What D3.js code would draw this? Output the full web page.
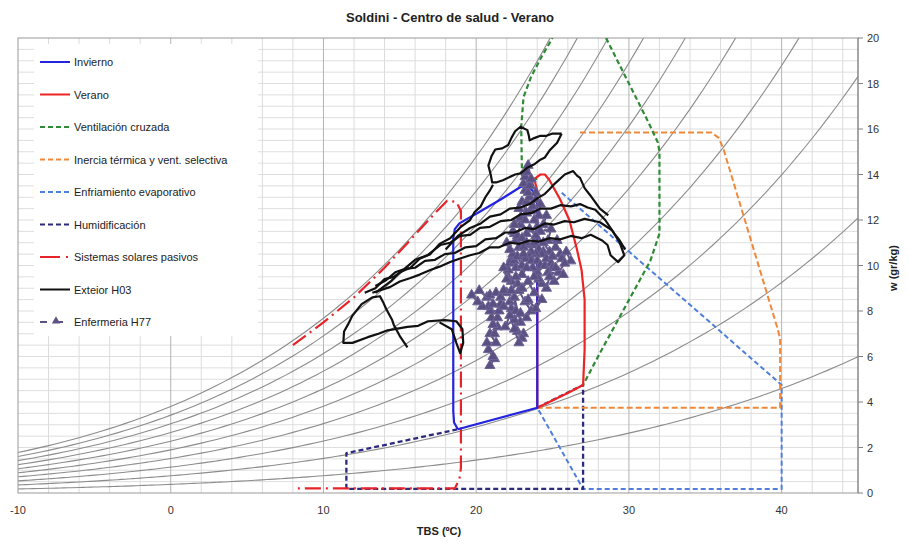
<!DOCTYPE html>
<html>
<head>
<meta charset="utf-8">
<script src="https://cdn.jsdelivr.net/npm/d3@7"></script>
<style>
  body { margin: 0; background: #fff; font-family: "Liberation Sans", Arial, sans-serif; }
</style>
</head>
<body>
<svg id="chart" width="909" height="549"></svg>
<script>
const chartTitle = "Soldini - Centro de salud - Verano";
const xTicks = [-10, 0, 10, 20, 30, 40];
const yTicks = [0, 2, 4, 6, 8, 10, 12, 14, 16, 18, 20];
const rhLevels = [0.1, 0.2, 0.3, 0.4, 0.5, 0.6, 0.7, 0.8, 0.9, 1.0];
const pressureKPa = 100.5;

// zones [TBS, w]
const invierno = [[18.8, 2.8], [18.55, 3.1], [18.5, 3.6], [18.5, 11.2], [18.6, 11.6], [18.9, 11.85], [20.2, 12.35], [21.6, 12.9], [22.9, 13.45], [23.4, 13.5], [23.8, 13.2], [24.0, 12.7], [24.0, 3.75], [18.8, 2.8]];
const verano = [[24.0, 3.75], [26.0, 4.4], [27.0, 4.75], [27.1, 6.3], [27.1, 8.5], [26.9, 9.8], [26.6, 10.7], [26.1, 12.0], [25.5, 12.9], [24.8, 13.75], [24.5, 14.0], [24.2, 14.0], [23.8, 13.8], [24.0, 13.3], [24.0, 3.75]];
const ventilacion = [[24.0, 13.8], [23.0, 13.9], [22.95, 16.1], [23.1, 17.4], [23.6, 18.3], [24.3, 19.2], [25.0, 20], null, [28.5, 20], [31.2, 16.4], [31.9, 15.4], [32.0, 15.0], [32.0, 11.4], [31.4, 10.2], [28.1, 6.15], [27.0, 4.75]];
const inercia = [[26.8, 15.85], [35.4, 15.85], [35.9, 15.6], [36.2, 15.1], [39.7, 7.3], [39.9, 6.8], [39.9, 3.75], [24.0, 3.75]];
const enfriamiento = [[25.6, 13.2], [40.0, 4.75], [40.0, 0.18], [27.0, 0.18], [24.0, 3.75]];
const humidificacion = [[24.0, 3.75], [27.0, 4.75], [27.0, 0.18], [11.5, 0.18], [11.5, 1.75], [18.8, 2.8]];
const solares = [[8.0, 6.5], [10.0, 7.5], [12.0, 8.6], [14.0, 9.9], [16.0, 11.35], [17.3, 12.3], [18.1, 12.85], [18.7, 12.8], [19.0, 12.4], [19.0, 1.1], [18.9, 0.6], [18.6, 0.2], [8.3, 0.2]];

// measured series
const exteriorH03 = [
  [[15.5, 6.4], [15.0, 6.9], [14.6, 7.4], [14.5, 7.6], [14.1, 8.1], [13.9, 8.4], [13.7, 8.65], [13.2, 8.6], [12.5, 8.3], [11.9, 7.8], [11.6, 7.4], [11.35, 7.1], [11.3, 6.6], [11.9, 6.6], [12.9, 6.85], [13.6, 7.0], [14.2, 7.15], [15.5, 7.3], [16.2, 7.35], [16.85, 7.55], [17.95, 7.6], [18.7, 7.55], [19.1, 7.2], [19.15, 6.6], [18.95, 6.15], [18.7, 6.6], [18.4, 7.2], [17.6, 7.5]],
  [[12.7, 8.8], [13.4, 9.0], [14.0, 9.4], [14.6, 9.5], [15.35, 9.85], [16.0, 9.9], [16.65, 10.2], [17.3, 10.25], [17.95, 10.5], [18.6, 10.55], [19.3, 10.8], [20.0, 10.85], [20.6, 11.15], [21.3, 11.2], [21.9, 11.45], [22.5, 11.45], [23.2, 11.65], [23.8, 11.6], [24.5, 11.85], [25.1, 11.8], [25.8, 11.95], [26.4, 11.9], [27.1, 12.05], [28.1, 11.9], [28.9, 11.55], [29.4, 11.0], [29.7, 10.45], [29.3, 10.15], [28.8, 10.45], [28.6, 10.9], [28.25, 11.1], [27.5, 11.35], [26.9, 11.2], [26.2, 11.3], [25.5, 11.15], [24.8, 11.2], [24.1, 11.05], [23.5, 11.1], [22.8, 10.95], [22.2, 11.0], [21.5, 10.8], [20.9, 10.8], [20.2, 10.55], [19.6, 10.45], [18.9, 10.3], [18.3, 10.15], [17.6, 9.95], [17.0, 9.8], [16.3, 9.6], [15.7, 9.45], [15.0, 9.3], [14.35, 9.05], [13.2, 8.8]],
  [[13.4, 9.1], [14.1, 9.35], [14.7, 9.7], [15.3, 9.85], [16.0, 10.25], [16.8, 10.45], [17.65, 10.9], [18.3, 11.0], [18.95, 11.3], [19.6, 11.35], [20.25, 11.65], [20.9, 11.7], [21.6, 11.95], [22.3, 12.0], [22.9, 12.25], [23.6, 12.3], [24.2, 12.5], [24.9, 12.5], [25.5, 12.65], [26.2, 12.6], [26.8, 12.7], [27.3, 12.55], [27.8, 12.45], [28.45, 12.0], [29.1, 11.35], [29.4, 11.1], [29.75, 10.7]],
  [[18.0, 10.7], [18.8, 11.3], [19.6, 11.65], [20.3, 11.85], [20.9, 12.15], [21.6, 12.25], [22.2, 12.5], [22.9, 12.55], [23.5, 12.7], [24.0, 12.95], [24.5, 13.15], [24.8, 13.35], [25.15, 13.6], [25.8, 14.0], [26.35, 14.15], [26.6, 13.95], [26.8, 13.85], [27.1, 13.4], [27.45, 13.1], [28.1, 12.5], [28.65, 12.2]],
  [[25.6, 15.8], [25.3, 15.4], [24.8, 15.05], [24.5, 14.75], [24.2, 14.65], [23.8, 14.45], [23.35, 14.3], [22.9, 14.05], [22.55, 14.0], [21.75, 13.75], [21.3, 13.65], [21.05, 13.65], [20.95, 14.0], [20.8, 14.4], [21.0, 14.8], [21.25, 15.1], [21.7, 15.15], [22.1, 15.3], [22.3, 15.6], [22.55, 15.9], [22.9, 16.1], [23.35, 15.95], [23.45, 15.7], [23.5, 15.5], [23.8, 15.6], [24.2, 15.7], [24.6, 15.7], [25.0, 15.8], [25.6, 15.8]],
  [[21.1, 13.55], [20.9, 13.3], [20.6, 13.0], [20.3, 12.6], [19.9, 12.35], [19.6, 12.0], [19.0, 11.7], [18.3, 11.2], [17.6, 10.95], [17.0, 10.5], [16.3, 10.3], [15.7, 9.9], [15.0, 9.7], [14.4, 9.3], [13.4, 8.8]]
];
const enfermeriaH77 = [[20.9, 5.6], [21.2, 5.9], [20.8, 6.3], [21.1, 6.0], [20.7, 6.6], [21.3, 6.6], [20.9, 7.0], [21.2, 7.0], [21.4, 7.3], [21.1, 7.4], [21.0, 7.7], [21.4, 7.7], [21.5, 8.0], [20.9, 8.0], [20.8, 8.2], [20.4, 8.2], [20.1, 8.4], [19.7, 8.7], [20.2, 8.9], [20.7, 8.6], [20.9, 8.7], [21.3, 8.8], [21.6, 8.6], [21.6, 8.3], [21.1, 8.3], [21.8, 8.2], [22.2, 8.4], [22.3, 8.1], [22.6, 8.0], [22.5, 8.6], [22.9, 7.5], [22.5, 7.6], [22.7, 7.1], [23.1, 7.0], [23.0, 6.8], [22.8, 6.6], [22.5, 7.2], [22.2, 7.8], [21.9, 7.3], [22.9, 7.9], [23.3, 7.7], [23.6, 8.0], [23.2, 8.4], [22.8, 8.9], [22.0, 8.8], [21.8, 8.9], [22.3, 8.9], [22.7, 9.2], [22.3, 9.3], [22.1, 9.8], [22.0, 9.4], [21.8, 9.9], [22.3, 10.3], [22.2, 10.1], [22.5, 10.2], [22.4, 10.5], [22.6, 9.9], [22.2, 10.7], [22.0, 11.0], [22.6, 11.1], [22.5, 11.4], [22.4, 11.5], [22.7, 11.3], [22.9, 11.8], [22.5, 11.8], [22.9, 12.1], [23.2, 12.0], [22.8, 12.5], [23.3, 12.3], [23.0, 12.8], [23.3, 12.8], [23.5, 13.0], [23.2, 13.3], [23.4, 13.2], [23.1, 13.6], [23.5, 13.5], [23.2, 13.9], [23.3, 14.1], [23.4, 14.4], [23.6, 13.8], [23.9, 13.2], [23.9, 12.9], [23.6, 12.4], [23.7, 12.6], [24.2, 12.7], [24.1, 12.2], [24.6, 12.2], [24.4, 11.8], [24.0, 11.7], [23.8, 12.0], [24.2, 11.5], [24.9, 11.6], [24.7, 11.1], [25.3, 11.1], [25.2, 10.8], [24.8, 10.6], [24.4, 11.0], [23.9, 11.3], [23.5, 11.6], [23.3, 11.4], [23.0, 11.2], [23.3, 11.0], [22.8, 10.8], [23.1, 10.8], [23.7, 10.9], [23.8, 11.0], [24.1, 10.7], [24.4, 10.6], [24.3, 10.5], [23.9, 10.5], [23.6, 10.6], [23.5, 10.4], [23.2, 10.3], [22.7, 10.4], [23.0, 10.0], [23.1, 10.5], [23.6, 10.2], [24.0, 10.2], [24.2, 10.0], [24.0, 9.7], [24.5, 10.0], [24.6, 10.3], [24.9, 10.1], [25.0, 10.4], [25.5, 10.5], [25.6, 10.3], [25.9, 10.6], [26.2, 10.2], [25.8, 10.1], [25.4, 9.7], [25.0, 9.9], [25.2, 9.9], [24.7, 9.7], [25.7, 9.6], [25.1, 9.3], [24.8, 9.5], [24.6, 9.0], [24.3, 9.2], [24.1, 9.4], [23.8, 9.5], [23.7, 9.9], [23.3, 9.9], [23.0, 9.6], [22.6, 9.5], [23.0, 9.0], [23.4, 9.3], [23.8, 8.8], [24.3, 8.5], [23.9, 8.1], [23.4, 8.5]];

const svg = d3.select("#chart");
const plot = { left: 18, right: 858, top: 38, bottom: 493 };
const x = d3.scaleLinear().domain([-10, 45]).range([plot.left, plot.right]);
const y = d3.scaleLinear().domain([0, 20]).range([plot.bottom, plot.top]);

svg.append("defs").append("clipPath").attr("id", "clip")
  .append("rect").attr("x", plot.left).attr("y", plot.top)
  .attr("width", plot.right - plot.left).attr("height", plot.bottom - plot.top);

// grid
const grid = svg.append("g");
grid.selectAll(".hg").data(d3.range(0.5, 20, 0.5)).join("line")
  .attr("x1", plot.left).attr("x2", plot.right)
  .attr("y1", d => y(d)).attr("y2", d => y(d))
  .attr("stroke", "#dedede").attr("stroke-width", 1);
grid.selectAll(".vg").data(d3.range(-8, 45, 2)).join("line")
  .attr("y1", plot.top).attr("y2", plot.bottom)
  .attr("x1", d => x(d)).attr("x2", d => x(d))
  .attr("stroke", d => d % 10 === 0 ? "#b4b4b4" : "#dcdcdc").attr("stroke-width", 1);

// relative humidity curves
function satPressure(t) { return 0.6112 * Math.exp(17.62 * t / (243.12 + t)); }
const tSteps = d3.range(-10, 45.01, 0.5);
const curve = d3.line().x(d => x(d[0])).y(d => y(d[1])).curve(d3.curveMonotoneX);
const cg = svg.append("g").attr("clip-path", "url(#clip)");
rhLevels.forEach(rh => {
  const pts = tSteps.map(t => {
    const pw = rh * satPressure(t);
    return [t, 622 * pw / (pressureKPa - pw)];
  }).filter(p => p[1] < 23);
  cg.append("path").attr("d", curve(pts)).attr("fill", "none")
    .attr("stroke", "#8c8c8c").attr("stroke-width", 1.1);
});

// frame
svg.append("rect").attr("x", plot.left).attr("y", plot.top)
  .attr("width", plot.right - plot.left).attr("height", plot.bottom - plot.top)
  .attr("fill", "none").attr("stroke", "#999");

const line = d3.line().defined(d => d !== null).x(d => x(d[0])).y(d => y(d[1]));
const zones = svg.append("g").attr("clip-path", "url(#clip)");

function zone(data, color, width, dash) {
  zones.append("path").attr("d", line(data)).attr("fill", "none")
    .attr("stroke", color).attr("stroke-width", width)
    .attr("stroke-dasharray", dash || null).attr("stroke-linejoin", "round");
}
zone(enfriamiento, "#4f7fdc", 2, "5,3");
zone(humidificacion, "#2c2a7c", 2.3, "5,3");
zone(inercia, "#f0883a", 2, "6,3");
zone(ventilacion, "#2f8a35", 2.2, "5,3");
zone(solares, "#e8242a", 2.2, "16,5,2,5");

// measured: enfermeria (purple markers)
const dg = svg.append("g").attr("clip-path", "url(#clip)");
dg.append("path").attr("d", line(enfermeriaH77)).attr("fill", "none")
  .attr("stroke", "#5e5284").attr("stroke-width", 2);
dg.selectAll(".mk").data(enfermeriaH77).join("path")
  .attr("transform", d => `translate(${x(d[0])},${y(d[1])})`)
  .attr("d", d3.symbol(d3.symbolTriangle, 44))
  .attr("fill", "#5b5082").attr("stroke", "#6e6496").attr("stroke-width", 1);

zone(verano, "#ee2424", 2.2);
zone(invierno, "#2323e0", 2.2);

// exterior (black)
exteriorH03.forEach(seg => {
  dg.append("path").attr("d", line(seg)).attr("fill", "none")
    .attr("stroke", "#111").attr("stroke-width", 2.2).attr("stroke-linejoin", "round");
});

// axes
svg.selectAll(".xt").data(xTicks).join("text")
  .attr("x", d => x(d)).attr("y", 514).attr("text-anchor", "middle")
  .attr("font-size", 11).attr("fill", "#333").text(d => d);
const yAxis = svg.append("g");
yAxis.append("line").attr("x1", plot.right).attr("x2", plot.right)
  .attr("y1", plot.top).attr("y2", plot.bottom).attr("stroke", "#808080");
yAxis.selectAll(".ytk").data(yTicks).join("line")
  .attr("x1", plot.right).attr("x2", plot.right + 5)
  .attr("y1", d => y(d)).attr("y2", d => y(d)).attr("stroke", "#808080");
yAxis.selectAll(".ytl").data(yTicks).join("text")
  .attr("x", plot.right + 9).attr("y", d => y(d) + 4)
  .attr("font-size", 11).attr("fill", "#333").text(d => d);

svg.append("text").attr("x", 450).attr("y", 22).attr("text-anchor", "middle")
  .attr("font-size", 13).attr("font-weight", "bold").attr("fill", "#222").text(chartTitle);
svg.append("text").attr("x", 439).attr("y", 535).attr("text-anchor", "middle")
  .attr("font-size", 11).attr("font-weight", "bold").attr("fill", "#222").text("TBS (ºC)");
svg.append("text").attr("transform", "translate(897,268) rotate(-90)").attr("text-anchor", "middle")
  .attr("font-size", 11).attr("font-weight", "bold").attr("fill", "#222").text("w (gr/kg)");

// legend
const legendItems = [
  { label: "Invierno", color: "#2323e0", dash: null },
  { label: "Verano", color: "#ee2424", dash: null },
  { label: "Ventilación cruzada", color: "#2f8a35", dash: "5,3" },
  { label: "Inercia térmica y vent. selectiva", color: "#f0883a", dash: "5,3" },
  { label: "Enfriamiento evaporativo", color: "#4f7fdc", dash: "5,3" },
  { label: "Humidificación", color: "#2c2a7c", dash: "5,3" },
  { label: "Sistemas solares pasivos", color: "#e8242a", dash: "20,6,2,20" },
  { label: "Exteior H03", color: "#111", dash: null },
  { label: "Enfermeria H77", color: "#5e5284", dash: "7,10,6" }
];
const lg = svg.append("g");
lg.append("rect").attr("x", 34).attr("y", 44).attr("width", 224).attr("height", 292).attr("fill", "#fff");
const li = lg.selectAll(".li").data(legendItems).join("g")
  .attr("transform", (d, i) => `translate(0,${62 + i * 32.5})`);
li.append("line").attr("x1", 40).attr("x2", 70).attr("y1", 0).attr("y2", 0)
  .attr("stroke", d => d.color).attr("stroke-width", 2).attr("stroke-dasharray", d => d.dash);
li.filter(d => d.label === "Enfermeria H77").append("path")
  .attr("transform", "translate(56,-1)").attr("d", d3.symbol(d3.symbolTriangle, 30)).attr("fill", "#5e5284");
li.append("text").attr("x", 74).attr("y", 4).attr("font-size", 11).attr("fill", "#222").text(d => d.label);
</script>
</body>
</html>
